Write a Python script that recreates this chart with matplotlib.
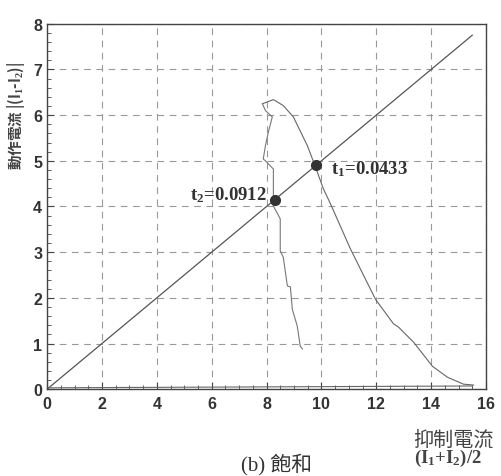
import numpy as np
import matplotlib.pyplot as plt
from matplotlib.ticker import MultipleLocator

# restraint line (slope 0.5)
line_x = [0.0, 15.5]
line_y = [0.0, 7.75]

# main trajectory (right branch)
curve1_x = [7.85, 8.25, 8.61, 8.98, 9.49, 9.78, 10.07, 10.33, 11.06,
            11.97, 12.63, 12.81, 13.36, 14.05, 14.6, 15.18, 15.55]
curve1_y = [6.25, 6.34, 6.21, 5.96, 5.33, 4.87, 4.39, 4.06, 3.07,
            1.97, 1.43, 1.36, 1.03, 0.50, 0.26, 0.11, 0.09]

# stepped trajectory (left branch)
curve2_x = [7.85, 7.96, 8.21, 8.07, 7.96, 7.88, 7.96, 8.25, 8.25, 8.25, 8.25,
            8.25, 8.50, 8.50, 8.61, 8.76, 8.87, 8.94, 9.12, 9.23, 9.31]
curve2_y = [6.25, 6.10, 5.96, 5.64, 5.33, 5.04, 5.00, 4.82, 4.61, 4.32, 4.17,
            4.01, 3.73, 3.03, 2.89, 2.26, 2.24, 1.75, 1.38, 0.94, 0.88]

# near-zero trace along the bottom
base_x = [0.0, 15.5]
base_y = [0.03, 0.07]

pts_x = [9.8, 8.3]
pts_y = [4.9, 4.15]
pts_lbl = ['t$_1$=0.0433', 't$_2$=0.0912']

cjk = ['Noto Sans CJK TC', 'DejaVu Sans']
serif = 'Liberation Serif'
plt.rcParams['mathtext.fontset'] = 'custom'
plt.rcParams['mathtext.rm'] = 'Liberation Serif:bold'
plt.rcParams['mathtext.it'] = 'Liberation Serif:bold'

fig = plt.figure(figsize=(5.01, 4.77), dpi=100)
ax = fig.add_axes([0.094, 0.182, 0.876, 0.766])

ax.plot(line_x, line_y, color='#555555', lw=0.9)
ax.plot(curve1_x, curve1_y, color='#666666', lw=0.8)
ax.plot(curve2_x, curve2_y, color='#777777', lw=0.8)
ax.plot(base_x, base_y, color='#666666', lw=0.8)
ax.plot(pts_x, pts_y, 'o', color='#333333', ms=7)

ax.text(pts_x[0] + 0.55, pts_y[0] - 0.05, pts_lbl[0], family=serif,
        weight='bold', fontsize=13.5, color='#333333', va='center', ha='left')
ax.text(pts_x[1] - 0.3, pts_y[1] + 0.12, pts_lbl[1], family=serif,
        weight='bold', fontsize=13.5, color='#333333', va='center', ha='right')

ax.set_xlim(0, 16)
ax.set_ylim(0, 8)
ax.xaxis.set_major_locator(MultipleLocator(2))
ax.xaxis.set_minor_locator(MultipleLocator(0.5))
ax.yaxis.set_major_locator(MultipleLocator(1))
ax.yaxis.set_minor_locator(MultipleLocator(0.2))
ax.tick_params(which='both', direction='in', colors='#444444')
ax.tick_params(which='major', length=5, labelsize=11.5)
ax.tick_params(which='minor', length=3)
ax.tick_params(axis='x', pad=5)
for lab in ax.get_xticklabels() + ax.get_yticklabels():
    lab.set_fontweight('bold')
    lab.set_family('Liberation Sans')
    lab.set_color('#333333')
ax.grid(True, which='major', ls=(0, (6, 5)), color='#999999', lw=0.8)
for s in ax.spines.values():
    s.set_color('#444444')
    s.set_linewidth(1.0)

fig.text(0.032, 0.757, '動作電流 |(I$_1$-I$_2$)|', rotation=90, family=cjk,
         fontsize=10.5, color='#444444', ha='center', va='center', weight='bold')
fig.text(0.824, 0.078, '抑制電流', family=cjk, fontsize=14.5, color='#444444',
         ha='left', va='center')
fig.text(0.826, 0.038, '(I$_1$+I$_2$)/2', family=serif, fontsize=13.5,
         color='#444444', ha='left', va='center', weight='bold')
fig.text(0.553, 0.027, '(b) 飽和', family=[serif, 'Noto Sans CJK TC'],
         fontsize=15, color='#333333', ha='center', va='center')

fig.savefig('out.png', dpi=100, facecolor='white')
